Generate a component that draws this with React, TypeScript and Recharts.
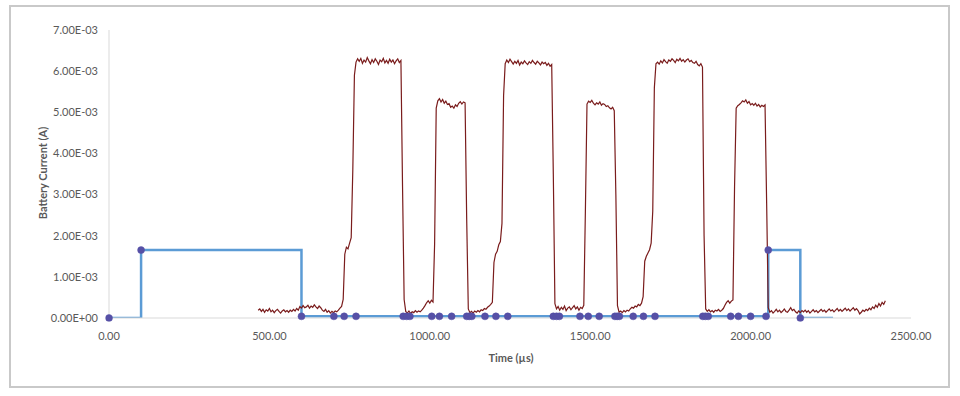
import React from 'react';
import { ComposedChart, Line, XAxis, YAxis, Label } from 'recharts';

// Axis ticks
const xTicks = [0, 500, 1000, 1500, 2000, 2500];
const yTicks = [0, 0.001, 0.002, 0.003, 0.004, 0.005, 0.006, 0.007];

// Blue step series (time µs, current A)
const stepTimes = [0, 100, 100, 600, 600, 2055, 2055, 2155, 2155, 2257];
const stepCurrents = [0, 0, 0.00165, 0.00165, 0.00004, 0.00004, 0.00165, 0.00165, 0, 0];

// Marker points of the blue series
const markerTimes = [
  0, 100, 600, 701, 733, 770, 917, 928, 938, 1006, 1030, 1068, 1115, 1123, 1131,
  1172, 1206, 1243, 1385, 1395, 1404, 1468, 1494, 1528, 1577, 1584, 1591, 1634,
  1666, 1702, 1851, 1859, 1868, 1938, 1962, 2000, 2048, 2055, 2155,
];
const markerCurrents = [
  0, 0.00165, 0.00004, 0.00004, 0.00004, 0.00004, 0.00004, 0.00004, 0.00004, 0.00004,
  0.00004, 0.00004, 0.00004, 0.00004, 0.00004, 0.00004, 0.00004, 0.00004, 0.00004,
  0.00004, 0.00004, 0.00004, 0.00004, 0.00004, 0.00004, 0.00004, 0.00004, 0.00004,
  0.00004, 0.00004, 0.00004, 0.00004, 0.00004, 0.00004, 0.00004, 0.00004, 0.00004,
  0.00165, 0,
];

// Measured battery current trace: sampled every 5 µs from 465 µs, values in mA
const traceStart = 465;
const traceStep = 5;
const traceMilliAmps = [
  0.19, 0.22, 0.16, 0.21, 0.14, 0.20, 0.17, 0.23, 0.15, 0.19,
  0.13, 0.18, 0.21, 0.16, 0.12, 0.17, 0.20, 0.15, 0.18, 0.14,
  0.19, 0.16, 0.21, 0.17, 0.23, 0.19, 0.28, 0.24, 0.30, 0.25,
  0.27, 0.31, 0.24, 0.29, 0.26, 0.32, 0.27, 0.23, 0.29, 0.25,
  0.19, 0.16, 0.21, 0.14, 0.18, 0.12, 0.16, 0.13, 0.17, 0.15,
  0.19, 0.24, 0.28, 0.45, 1.55, 1.72, 1.68, 1.82, 1.95, 3.60,
  5.90, 6.22, 6.30, 6.24, 6.31, 6.19, 6.27, 6.22, 6.33, 6.25,
  6.18, 6.28, 6.21, 6.30, 6.24, 6.16, 6.27, 6.23, 6.31, 6.20,
  6.26, 6.19, 6.29, 6.22, 6.27, 6.18, 6.25, 6.30, 6.21, 6.26,
  3.20, 0.45, 0.16, 0.12, 0.17, 0.11, 0.15, 0.13, 0.18, 0.14,
  0.17, 0.15, 0.19, 0.24, 0.30, 0.37, 0.42, 0.36, 0.43, 0.39,
  1.80, 5.10, 5.28, 5.33, 5.25, 5.31, 5.22, 5.27, 5.19, 5.21,
  5.12, 5.15, 5.10, 5.18, 5.14, 5.22, 5.26, 5.20, 5.25, 5.23,
  2.40, 0.22, 0.13, 0.16, 0.12, 0.17, 0.14, 0.18, 0.15, 0.20,
  0.18, 0.23, 0.21, 0.26, 0.29, 0.33, 0.38, 1.35, 1.55, 1.62,
  1.78, 1.86, 2.30, 5.40, 6.18, 6.27, 6.21, 6.29, 6.23, 6.17,
  6.24, 6.19, 6.26, 6.15, 6.22, 6.18, 6.25, 6.20, 6.16, 6.23,
  6.19, 6.26, 6.21, 6.17, 6.24, 6.20, 6.15, 6.22, 6.18, 6.21,
  6.14, 6.19, 6.12, 6.16, 3.50, 0.35, 0.22, 0.28, 0.19, 0.26,
  0.21, 0.29, 0.18, 0.24, 0.27, 0.20, 0.25, 0.30, 0.22, 0.27,
  0.19, 0.26, 0.23, 0.31, 2.60, 5.20, 5.27, 5.24, 5.29, 5.22,
  5.18, 5.23, 5.20, 5.25, 5.17, 5.21, 5.19, 5.14, 5.16, 5.11,
  5.08, 5.12, 5.04, 3.00, 0.30, 0.14, 0.17, 0.13, 0.18, 0.15,
  0.19, 0.17, 0.22, 0.26, 0.24, 0.29, 0.27, 0.33, 0.30, 0.36,
  0.52, 1.38, 1.50, 1.58, 1.66, 1.82, 2.60, 5.60, 6.18, 6.22,
  6.17, 6.25, 6.20, 6.28, 6.23, 6.19, 6.27, 6.24, 6.30, 6.26,
  6.21, 6.29, 6.25, 6.31, 6.24, 6.28, 6.22, 6.27, 6.30, 6.23,
  6.26, 6.21, 6.19, 6.24, 6.16, 6.13, 6.18, 6.10, 2.00, 0.22,
  0.16, 0.20, 0.15, 0.18, 0.14, 0.19, 0.17, 0.21, 0.16, 0.19,
  0.23, 0.31, 0.38, 0.42, 0.36, 0.41, 0.44, 3.20, 5.10, 5.16,
  5.19, 5.23, 5.28, 5.25, 5.30, 5.22, 5.26, 5.18, 5.21, 5.17,
  5.22, 5.15, 5.19, 5.13, 5.17, 5.14, 5.18, 2.80, 0.25, 0.14,
  0.18, 0.12, 0.16, 0.21, 0.15, 0.19, 0.13, 0.17, 0.22, 0.16,
  0.14, 0.19, 0.25, 0.18, 0.21, 0.15, 0.12, 0.17, 0.13, 0.18,
  0.15, 0.19, 0.14, 0.18, 0.12, 0.16, 0.20, 0.15, 0.18, 0.13,
  0.17, 0.21, 0.16, 0.19, 0.14, 0.18, 0.22, 0.17, 0.20, 0.15,
  0.19, 0.23, 0.17, 0.21, 0.16, 0.20, 0.24, 0.18, 0.22, 0.17,
  0.21, 0.25, 0.19, 0.23, 0.18, 0.10, 0.14, 0.19, 0.16, 0.21,
  0.18, 0.24, 0.20, 0.27, 0.23, 0.31, 0.26, 0.35, 0.29, 0.38,
  0.33, 0.42,
];

const stepData = stepTimes.map((t, i) => ({ t, v: stepCurrents[i] }));
const markerData = markerTimes.map((t, i) => ({ t, v: markerCurrents[i] }));
const traceData = traceMilliAmps.map((m, i) => ({ t: traceStart + i * traceStep, v: m / 1000 }));

const FONT = 'Lato, "Open Sans", sans-serif';
const TEXT = '#595959';

const fmtY = (v: number) => {
  const [mant, exp] = v.toExponential(2).split('e');
  const e = parseInt(exp, 10);
  const sign = e < 0 ? '-' : '+';
  const abs = Math.abs(e);
  return `${mant}E${sign}${abs < 10 ? '0' + abs : abs}`;
};
const fmtX = (v: number) => v.toFixed(2);

export default function App() {
  return (
    <div style={{ position: 'absolute', left: 0, top: 0, width: 960, height: 396, background: '#fff' }}>
      <div
        style={{
          position: 'absolute',
          left: 9,
          top: 5,
          width: 941,
          height: 383,
          border: '2px solid #C9C9C9',
          boxSizing: 'border-box',
        }}
      />
      <div style={{ position: 'absolute', left: 0, top: 0 }}>
        <ComposedChart width={960} height={396} margin={{ top: 30, right: 49, left: 0, bottom: 48 }}>
          <XAxis
            type="number"
            dataKey="t"
            domain={[0, 2500]}
            ticks={xTicks}
            tickFormatter={fmtX}
            allowDataOverflow
            axisLine={{ stroke: '#D9D9D9', strokeWidth: 1 }}
            tickLine={false}
            tickMargin={8}
            height={30}
            tick={{ fill: TEXT, fontSize: 11, fontFamily: FONT }}
          >
            <Label
              content={() => (
                <text x={511} y={362} textAnchor="middle" fill={TEXT} fontSize={11} fontWeight="bold" fontFamily={FONT}>
                  Time (µs)
                </text>
              )}
            />
          </XAxis>
          <YAxis
            type="number"
            dataKey="v"
            domain={[0, 0.007]}
            ticks={yTicks}
            tickFormatter={fmtY}
            allowDataOverflow
            width={109}
            axisLine={{ stroke: '#D9D9D9', strokeWidth: 1 }}
            tickLine={false}
            tickMargin={5}
            tick={{ fill: TEXT, fontSize: 11, fontFamily: FONT }}
          >
            <Label
              content={() => (
                <text
                  x={47}
                  y={173}
                  transform="rotate(-90 47 173)"
                  textAnchor="middle"
                  fill={TEXT}
                  fontSize={11}
                  fontWeight="bold"
                  fontFamily={FONT}
                >
                  Battery Current (A)
                </text>
              )}
            />
          </YAxis>
          <Line
            data={stepData}
            dataKey="v"
            type="linear"
            stroke="#5B9BD5"
            strokeWidth={2.5}
            dot={false}
            isAnimationActive={false}
          />
          <Line
            data={traceData}
            dataKey="v"
            type="linear"
            stroke="#7A1C1C"
            strokeWidth={1.2}
            dot={false}
            isAnimationActive={false}
          />
          <Line
            data={markerData}
            dataKey="v"
            type="linear"
            stroke="none"
            dot={{ r: 3.5, fill: '#5650A6', stroke: '#5650A6', strokeWidth: 0.5, clipDot: false }}
            isAnimationActive={false}
          />
        </ComposedChart>
      </div>
    </div>
  );
}
